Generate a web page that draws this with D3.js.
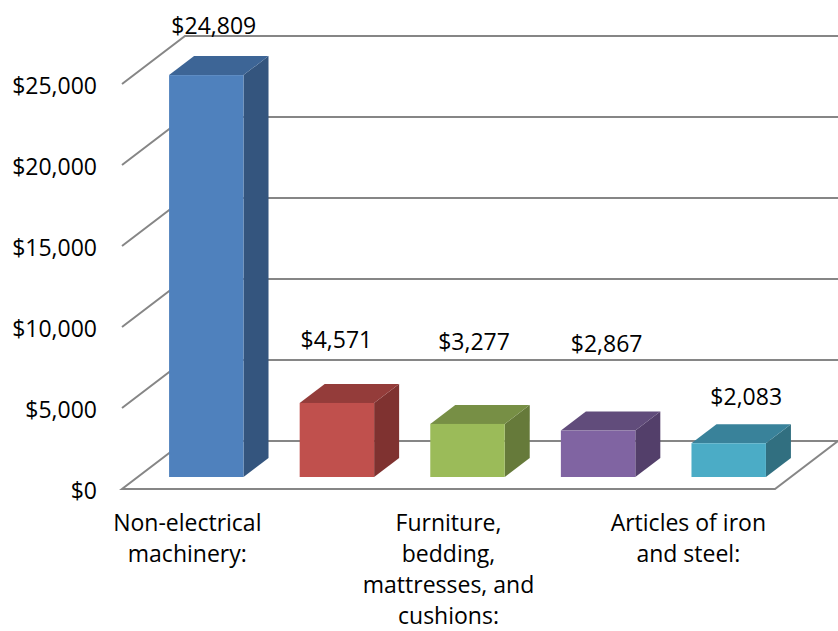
<!DOCTYPE html>
<html>
<head>
<meta charset="utf-8">
<script src="https://cdn.jsdelivr.net/npm/d3@7"></script>
<style>
  body { margin: 0; background: #fff; }
  svg { display: block; font-family: "Open Sans", "Noto Sans", sans-serif; }
</style>
</head>
<body>
<div id="chart"></div>
<script>
// ---- data ----
const categories = [
  'Non-electrical machinery:',
  '',
  'Furniture, bedding, mattresses, and cushions:',
  '',
  'Articles of iron and steel:',
];
// line breaks as they appear under the axis (only every other label is shown)
const categoryLines = [
  ['Non-electrical', 'machinery:'],
  [],
  ['Furniture,', 'bedding,', 'mattresses, and', 'cushions:'],
  [],
  ['Articles of iron', 'and steel:'],
];
const values = [24809, 4571, 3277, 2867, 2083];
const yTicks = [0, 5000, 10000, 15000, 20000, 25000];

// ---- look ----
const frontColors = ['#4f81bd', '#c0504d', '#9bbb59', '#8064a2', '#4bacc6'];
const sideColors  = ['#34557e', '#7f3230', '#667a3a', '#533f6a', '#316f80'];
const topColors   = ['#3d6596', '#943c3a', '#778f45', '#614c7b', '#39829a'];
// excel puts the value labels a bit irregularly; nudges from the top-back of each bar
const labelNudge = [[-5, -22], [-13, -36], [-6, -55], [-4, -60], [5, -19]];

const W = 838, H = 631;
const wall = { dx: 63, dy: -48 };   // depth of the floor / side wall
const barFront = { dx: 19, dy: -12 }; // where the bar front sits inside the depth
const barDepth = { dx: 25, dy: -19 };
const fontSize = 23;

const svg = d3.select('#chart').append('svg')
  .attr('width', W).attr('height', H);

const x = d3.scaleBand()
  .domain(d3.range(values.length))
  .range([122, 775])
  .paddingInner(0.43)
  .paddingOuter(0.215);

const y = d3.scaleLinear().domain([0, 25000]).range([489, 84]);

const grid = svg.append('g')
  .attr('fill', 'none')
  .attr('stroke', '#868686')
  .attr('stroke-width', 2);

// side wall + back wall gridlines
yTicks.filter(t => t > 0).forEach(t => {
  const y0 = y(t);
  grid.append('polyline')
    .attr('points', [
      [x.range()[0], y0],
      [x.range()[0] + wall.dx, y0 + wall.dy],
      [x.range()[1] + wall.dx, y0 + wall.dy],
    ].join(' '));
});

// floor
const f0 = y(0), xl = x.range()[0], xr = x.range()[1];
grid.append('polygon')
  .attr('fill', '#fff')
  .attr('points', [
    [xl, f0], [xr, f0], [xr + wall.dx, f0 + wall.dy], [xl + wall.dx, f0 + wall.dy],
  ].join(' '));

// y axis labels
const yAxis = svg.append('g')
  .attr('transform', `translate(${xl},0)`)
  .call(d3.axisLeft(y).tickValues(yTicks).tickFormat(d3.format('$,')).tickSize(0).tickPadding(25));
yAxis.select('.domain').remove();
yAxis.selectAll('text')
  .attr('font-family', '"Open Sans", sans-serif')
  .attr('font-size', fontSize)
  .attr('fill', '#000')
  .attr('dy', '0.4em');

// bars
const bars = svg.append('g');
values.forEach((v, i) => {
  const x0 = x(i) + barFront.dx;
  const x1 = x0 + x.bandwidth();
  const yb = y(0) + barFront.dy;
  const yt = y(v) + barFront.dy;
  const g = bars.append('g');
  g.append('polygon')
    .attr('fill', sideColors[i])
    .attr('points', [[x1, yb], [x1 + barDepth.dx, yb + barDepth.dy], [x1 + barDepth.dx, yt + barDepth.dy], [x1, yt]].join(' '));
  g.append('polygon')
    .attr('fill', topColors[i])
    .attr('points', [[x0, yt], [x1, yt], [x1 + barDepth.dx, yt + barDepth.dy], [x0 + barDepth.dx, yt + barDepth.dy]].join(' '));
  g.append('rect')
    .attr('x', x0).attr('y', yt)
    .attr('width', x.bandwidth()).attr('height', yb - yt)
    .attr('fill', frontColors[i]);

  // value label
  const ax = x0 + x.bandwidth() / 2 + barDepth.dx / 2;
  const ay = yt + barDepth.dy;
  svg.append('text')
    .attr('x', ax + labelNudge[i][0])
    .attr('y', ay + labelNudge[i][1])
    .attr('text-anchor', 'middle')
    .attr('font-size', fontSize)
    .text(d3.format('$,')(v));
});

// category labels
const rightLimit = 766;
categoryLines.forEach((lines, i) => {
  if (!lines.length) return;
  const cx = x(i) + x.bandwidth() / 2;
  const t = svg.append('text')
    .attr('text-anchor', 'middle')
    .attr('font-size', fontSize);
  lines.forEach((ln, k) => {
    t.append('tspan').attr('x', cx).attr('y', y(0) + 42 + k * 31).text(ln);
  });
  const bb = t.node().getBBox();
  if (bb.x + bb.width > rightLimit) {
    t.attr('transform', `translate(${rightLimit - (bb.x + bb.width)},0)`);
  }
});
</script>
</body>
</html>
